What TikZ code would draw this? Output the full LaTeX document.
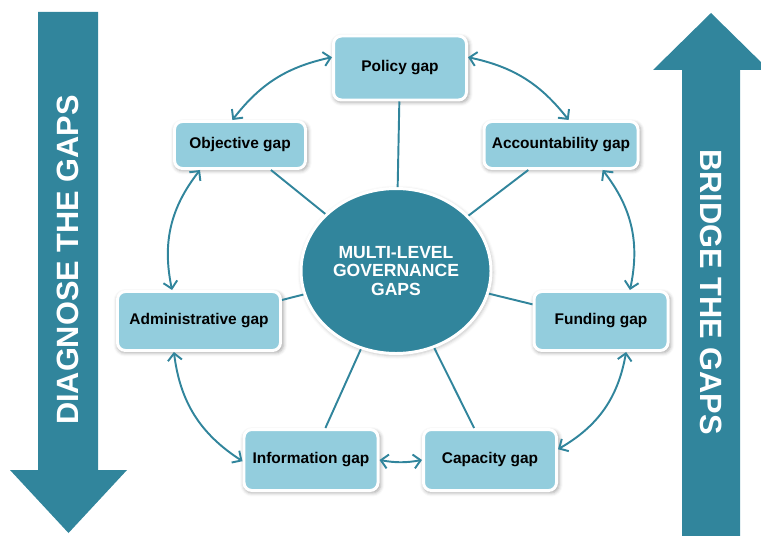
\documentclass[tikz,border=0pt]{standalone}
\usepackage{fontspec}
\setmainfont{Liberation Sans}
\usepackage{tikz}
\usetikzlibrary{arrows,arrows.meta,shapes,positioning,shadows,shadows.blur}
\usepackage{xcolor}
\definecolor{gapteal}{RGB}{49,133,156}
\definecolor{gaplightblue}{RGB}{147,205,221}
\tikzstyle{gaparrow} = [line width=1.1pt,{Straight Barb[length=4pt,width=8pt]}-{Straight Barb[length=4pt,width=8pt]},color=gapteal]
\tikzstyle{spoke} = [line width=1.1pt,color=gapteal]
\tikzstyle{gapbox} = [rectangle, rounded corners=4.5pt, text centered, draw=white, fill=gaplightblue, line width=1.7pt, font=\bfseries\fontsize{8.8}{10}\selectfont, blur shadow={shadow xshift=0.7pt,shadow yshift=-1pt,shadow blur radius=2pt,shadow opacity=35,shadow scale=1.02}]
\tikzstyle{hub} = [ellipse, minimum width=3.8cm, minimum height=3.3cm, inner sep=0pt, align=center, draw=white, fill=gapteal, line width=1.7pt, text=white, font=\bfseries\fontsize{10}{10.5}\selectfont, blur shadow={shadow xshift=0.6pt,shadow yshift=-0.8pt,shadow blur radius=2pt,shadow opacity=25,shadow scale=1.01}]
\tikzstyle{sidetext} = [text=white, font=\bfseries\fontsize{17.5}{20}\selectfont]

\begin{document}
\begin{tikzpicture}
\clip (0,0) rectangle (15.22,10.7);

% Side arrows
\fill[gapteal] (0.76,10.46) -- (1.96,10.46) -- (1.96,1.3) -- (2.54,1.3) -- (1.37,0.04) -- (0.2,1.3) -- (0.76,1.3) -- cycle;
\fill[gapteal] (13.64,-0.1) -- (13.64,9.3) -- (13.06,9.3) -- (14.22,10.44) -- (15.38,9.3) -- (14.8,9.3) -- (14.8,-0.1) -- cycle;
\node[sidetext, rotate=90] (diagnose) at (1.36,5.5) {DIAGNOSE THE GAPS};
\node[sidetext, rotate=-90] (bridge) at (14.22,4.86) {BRIDGE THE GAPS};

% Centre
\node[hub] (hub) at (7.92,5.28) {MULTI-LEVEL\\GOVERNANCE\\GAPS};

% Gaps
\node[gapbox, minimum width=2.66cm, minimum height=1.28cm] (policy) at (8.0,9.34) {Policy gap};
\node[gapbox, minimum width=2.62cm, minimum height=0.94cm] (objective) at (4.8,7.8) {Objective gap};
\node[gapbox, minimum width=3.08cm, minimum height=0.94cm] (accountability) at (11.22,7.8) {Accountability gap};
\node[gapbox, minimum width=3.26cm, minimum height=1.18cm] (administrative) at (3.98,4.28) {Administrative gap};
\node[gapbox, minimum width=2.68cm, minimum height=1.18cm] (funding) at (12.02,4.28) {Funding gap};
\node[gapbox, minimum width=2.68cm, minimum height=1.22cm] (information) at (6.22,1.5) {Information gap};
\node[gapbox, minimum width=2.66cm, minimum height=1.22cm] (capacity) at (9.8,1.5) {Capacity gap};

% Spokes
\foreach \gap in {policy,objective,accountability,administrative,funding,information,capacity}
  \draw[spoke] (hub) -- (\gap);

% Ring of arrows
\draw[gaparrow] (policy.171) to[bend right=20] (objective.107);
\draw[gaparrow] (policy.9) to[bend left=20] (accountability.73);
\draw[gaparrow] (accountability.-31) to[bend left=25] (funding.47);
\draw[gaparrow] (objective.212) to[bend right=25] (administrative.131);
\draw[gaparrow] (administrative.231) to[bend right=25] (information.181);
\draw[gaparrow] (funding.-51) to[bend left=25] (capacity.9);
\draw[gaparrow] (information.east) to[bend right=10] (capacity.west);
\end{tikzpicture}
\end{document}
